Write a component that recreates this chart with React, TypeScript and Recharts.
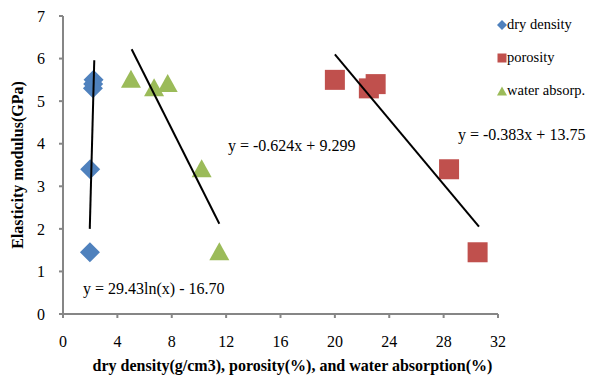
import React from 'react';
import { ScatterChart, Scatter, XAxis, YAxis } from 'recharts';

const dryDensity = [
  { x: 2.25, y: 5.5 },
  { x: 2.22, y: 5.4 },
  { x: 2.2, y: 5.3 },
  { x: 2.0, y: 3.4 },
  { x: 1.98, y: 1.45 },
];
const porosity = [
  { x: 20.0, y: 5.5 },
  { x: 22.5, y: 5.3 },
  { x: 23.0, y: 5.4 },
  { x: 28.4, y: 3.4 },
  { x: 30.5, y: 1.45 },
];
const waterAbsorp = [
  { x: 5.0, y: 5.5 },
  { x: 6.7, y: 5.3 },
  { x: 7.7, y: 5.4 },
  { x: 10.2, y: 3.4 },
  { x: 11.5, y: 1.45 },
];
const trendDry = [
  { x: 2.3, y: 5.96 },
  { x: 1.97, y: 2.0 },
];
const trendWater = [
  { x: 5.05, y: 6.22 },
  { x: 11.5, y: 2.12 },
];
const trendPorosity = [
  { x: 20.0, y: 6.1 },
  { x: 30.6, y: 2.05 },
];
const xTicks = [0, 4, 8, 12, 16, 20, 24, 28, 32];
const yTicks = [0, 1, 2, 3, 4, 5, 6, 7];
const legendItems = [
  { name: 'dry density', color: '#4F81BD', shape: 'diamond' },
  { name: 'porosity', color: '#C0504D', shape: 'square' },
  { name: 'water absorp.', color: '#9BBB59', shape: 'triangle' },
];
const equations = [
  { text: 'y = -0.624x + 9.299', left: 228, top: 146 },
  { text: 'y = -0.383x + 13.75', left: 458, top: 135 },
  { text: 'y = 29.43ln(x) - 16.70', left: 83, top: 289 },
];

const FONT = '"Liberation Serif", "Times New Roman", Times, serif';

const Diamond = (p: any) => {
  const { cx, cy } = p;
  const r = 10;
  return <path d={`M${cx},${cy - r} L${cx + r},${cy} L${cx},${cy + r} L${cx - r},${cy} Z`} fill="#4F81BD" />;
};
const Square = (p: any) => {
  const { cx, cy } = p;
  const r = 10;
  return <rect x={cx - r} y={cy - r} width={2 * r} height={2 * r} fill="#C0504D" />;
};
const Triangle = (p: any) => {
  const { cx, cy } = p;
  return <path d={`M${cx},${cy - 10} L${cx + 10},${cy + 8} L${cx - 10},${cy + 8} Z`} fill="#9BBB59" />;
};
const NoShape = () => <g />;

const LegendMark = ({ shape, color }: any) => {
  if (shape === 'diamond') return <path d="M5,0 L10,5 L5,10 L0,5 Z" fill={color} />;
  if (shape === 'square') return <rect x={0.5} y={0.5} width={9} height={9} fill={color} />;
  return <path d="M5,0.5 L10,9.5 L0,9.5 Z" fill={color} />;
};

export default function App() {
  return (
    <div style={{ position: 'absolute', left: 0, top: 0, width: 592, height: 375, background: '#fff' }}>
      <ScatterChart width={592} height={375} margin={{ top: 16, right: 94, left: 0, bottom: 0 }}>
        <XAxis
          type="number"
          dataKey="x"
          domain={[0, 32]}
          ticks={xTicks}
          allowDataOverflow
          height={61}
          stroke="#868686"
          strokeWidth={2}
          tickSize={4}
          tickMargin={18}
          tick={{ fill: '#000', fontFamily: FONT, fontSize: 16 }}
          label={{
            value: 'dry density(g/cm3), porosity(%), and water absorption(%)',
            position: 'insideBottom',
            offset: 4,
            dx: 12,
            style: { fontFamily: FONT, fontSize: 16, fontWeight: 'bold', fill: '#000' },
          }}
        />
        <YAxis
          type="number"
          dataKey="y"
          domain={[0, 7]}
          ticks={yTicks}
          width={63}
          stroke="#868686"
          strokeWidth={2}
          tickSize={4}
          tickMargin={14}
          tick={{ fill: '#000', fontFamily: FONT, fontSize: 16 }}
          label={{
            value: 'Elasticity modulus(GPa)',
            angle: -90,
            position: 'center',
            dx: -14,
            style: { fontFamily: FONT, fontSize: 16, fontWeight: 'bold', fill: '#000', textAnchor: 'middle' },
          }}
        />
        <Scatter name="dry density" data={dryDensity} shape={Diamond} isAnimationActive={false} />
        <Scatter name="porosity" data={porosity} shape={Square} isAnimationActive={false} />
        <Scatter name="water absorp." data={waterAbsorp} shape={Triangle} isAnimationActive={false} />
        <Scatter data={trendDry} line={{ stroke: '#000', strokeWidth: 2 }} shape={NoShape} legendType="none" isAnimationActive={false} />
        <Scatter data={trendWater} line={{ stroke: '#000', strokeWidth: 2 }} shape={NoShape} legendType="none" isAnimationActive={false} />
        <Scatter data={trendPorosity} line={{ stroke: '#000', strokeWidth: 2 }} shape={NoShape} legendType="none" isAnimationActive={false} />
      </ScatterChart>
      <div style={{ position: 'absolute', left: 497, top: 8, fontFamily: FONT, fontSize: 14.5, color: '#000' }}>
        {legendItems.map((it) => (
          <div key={it.name} style={{ display: 'flex', alignItems: 'center', height: 33 }}>
            <svg width={10} height={10}>
              <LegendMark shape={it.shape} color={it.color} />
            </svg>
            <span>{it.name}</span>
          </div>
        ))}
      </div>
      {equations.map((e) => (
        <div
          key={e.text}
          style={{
            position: 'absolute',
            left: e.left,
            top: e.top - 9,
            fontFamily: FONT,
            fontSize: 16,
            color: '#000',
            whiteSpace: 'nowrap',
            lineHeight: '18px',
          }}
        >
          {e.text}
        </div>
      ))}
    </div>
  );
}
